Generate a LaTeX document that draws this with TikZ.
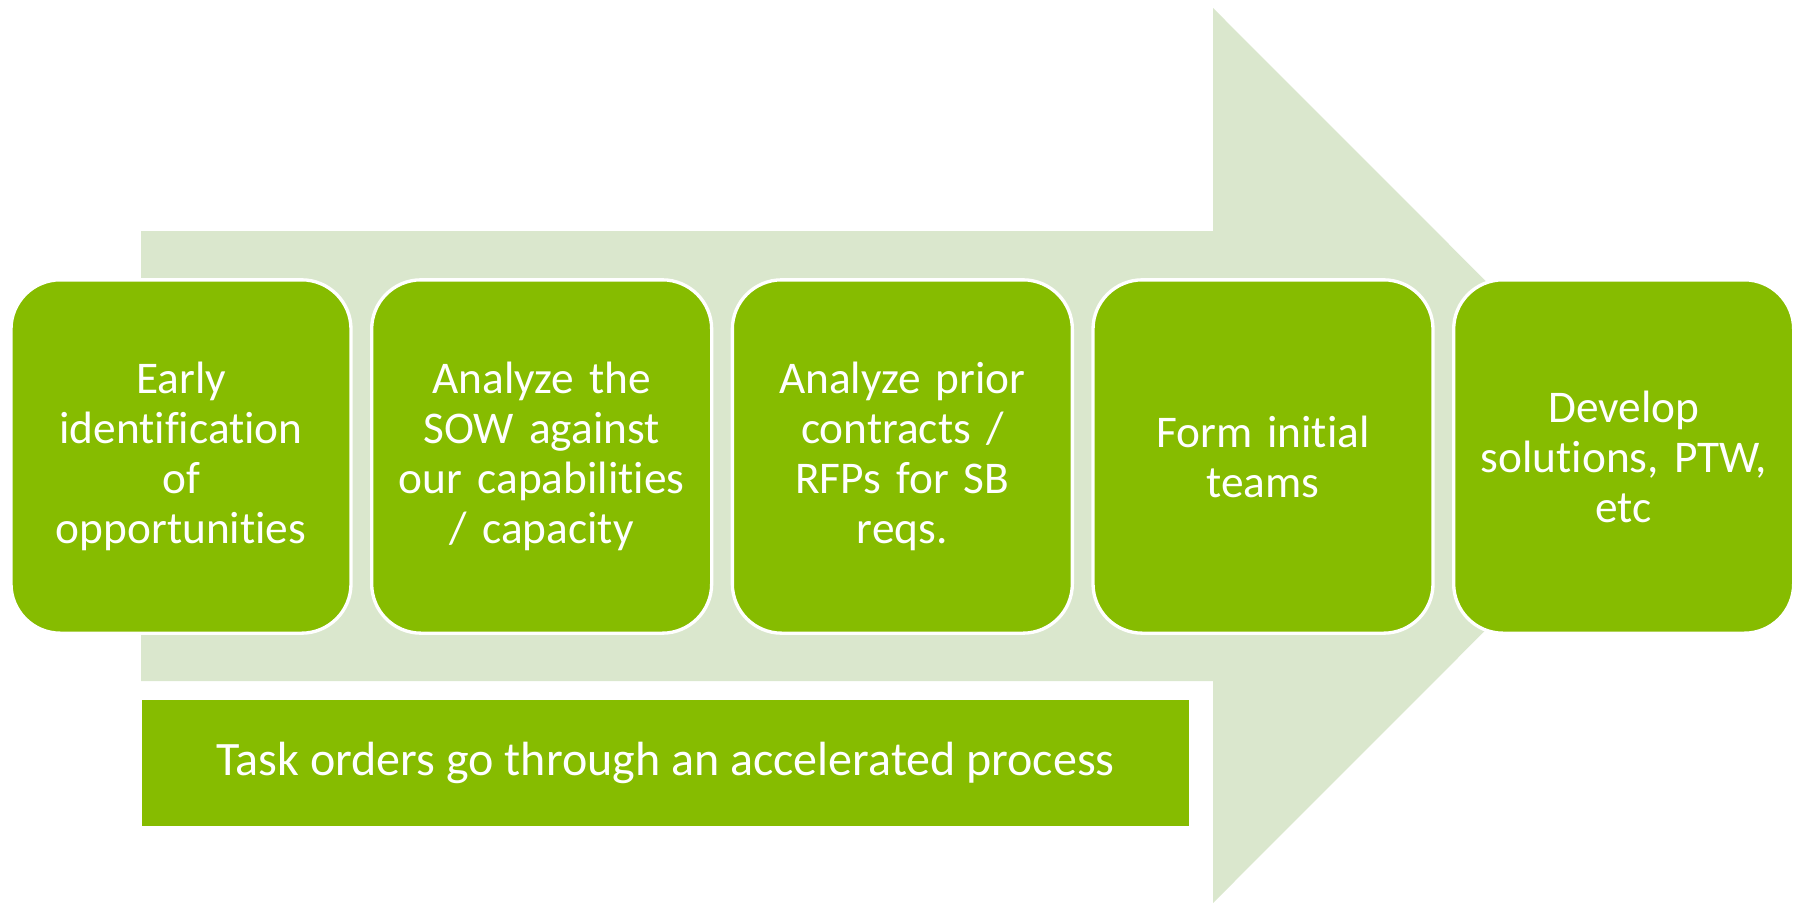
\documentclass[tikz,border=0pt]{standalone}
\usepackage{fontspec}
\setmainfont{Carlito}[Ligatures=CommonOff]
\usetikzlibrary{positioning}
\definecolor{leafgreen}{RGB}{134,188,0}
\definecolor{palegreen}{RGB}{218,231,205}
\tikzset{
  stepbox/.style={draw=white,line width=2.5pt,fill=leafgreen,rounded corners=37pt,
    minimum width=255pt,minimum height=265pt,text width=235pt,align=center,
    text=white,font=\fontsize{34}{37.5}\selectfont,inner sep=0pt},
  notebar/.style={fill=leafgreen,minimum width=785pt,minimum height=94.5pt,
    text=white,font=\fontsize{36}{40}\selectfont,inner sep=0pt}
}
\begin{document}
\begin{tikzpicture}[x=0.75pt,y=-0.75pt]
\useasboundingbox (0,0) rectangle (1803,903);
% big background arrow
\fill[palegreen] (141,231) -- (1213,231) -- (1213,8) -- (1660,455.5)
      -- (1213,903) -- (1213,681) -- (141,681) -- cycle;
% steps
\node[stepbox] (early) at (181,456.5) {Early\\identification\\of\\opportunities};
\node[stepbox,right=13pt of early] (sow) {Analyze the\\SOW against\\our capabilities\\/ capacity};
\node[stepbox,right=13pt of sow] (prior) {Analyze prior\\contracts /\\RFPs for SB\\reqs.};
\node[stepbox,right=13pt of prior] (teams) {Form initial\\teams};
\node[stepbox,right=13pt of teams] (develop) {Develop\\solutions, PTW,\\etc};
% task orders
\node[notebar] (tasks) at (665.5,763) {Task orders go through an accelerated process};
\end{tikzpicture}
\end{document}
